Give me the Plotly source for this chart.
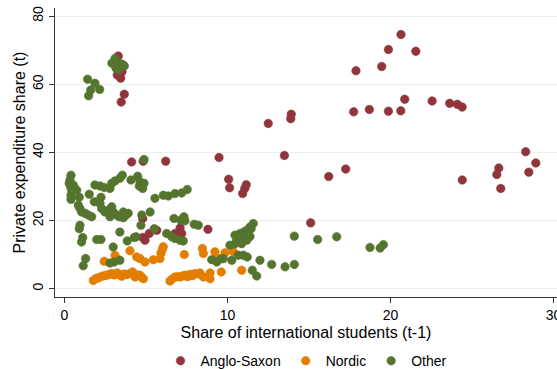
import plotly.graph_objects as go

# Share of international students (t-1) vs private expenditure share (t), by country group
anglo_x = [3.30, 3.59, 3.24, 3.45, 3.53, 3.67, 3.48, 12.50, 13.91, 13.88, 17.88, 19.46, 19.87, 20.64,
           21.55, 17.74, 18.70, 19.87, 20.63, 20.87, 22.55, 23.63, 24.10, 24.39, 28.29, 28.91, 28.48,
           26.64, 26.52, 26.76, 24.40, 6.21, 9.48, 10.07, 10.13, 11.15, 11.06, 10.93, 13.49, 16.21,
           17.25, 15.10, 8.80, 7.09, 6.78, 7.19, 5.66, 5.20, 4.94, 4.80, 4.12, 4.83, 4.80]
anglo_y = [68.3, 65.7, 62.7, 61.8, 63.7, 57.1, 54.8, 48.5, 51.2, 49.9, 64.0, 65.2, 70.2, 74.6,
           69.7, 51.9, 52.6, 52.1, 52.2, 55.6, 55.1, 54.4, 54.1, 53.3, 40.2, 36.9, 34.2,
           35.4, 33.5, 29.4, 31.9, 37.4, 38.5, 32.1, 29.6, 30.5, 29.4, 27.9, 39.1, 32.9,
           35.1, 19.3, 17.4, 17.8, 16.2, 16.2, 17.1, 16.2, 14.2, 20.6, 37.2, 37.4, 15.0]

nordic_x = [1.77, 1.95, 2.10, 2.28, 2.45, 2.59, 2.75, 2.90, 3.05, 3.24, 3.40, 3.51, 3.65, 3.82,
            4.00, 4.18, 4.33, 4.50, 4.63, 4.84, 4.72,
            6.47, 6.60, 6.78, 6.95, 7.09, 7.25, 7.39, 7.55, 7.70, 7.85, 8.01, 8.20, 8.31, 8.52,
            8.93, 8.93, 9.62, 10.87,
            2.44, 3.10, 3.30, 4.02, 4.43, 4.63, 4.94, 5.45, 5.86, 5.92, 6.00, 6.06, 7.35, 8.46,
            8.52, 9.23, 9.34, 9.85, 10.36]
nordic_y = [2.4, 3.0, 3.2, 3.6, 3.8, 3.9, 4.2, 4.4, 4.0, 4.6, 4.0, 3.6, 4.3, 4.1,
            4.4, 4.9, 3.4, 4.0, 3.9, 2.9, 3.4,
            2.2, 2.8, 3.4, 3.5, 3.4, 3.7, 3.9, 3.5, 4.2, 3.8, 4.4, 4.3, 4.6, 3.4,
            4.6, 2.9, 4.9, 5.4,
            8.0, 9.8, 8.5, 11.1, 9.3, 8.8, 7.8, 8.5, 8.8, 10.4, 11.5, 12.3, 10.0, 11.8,
            10.3, 10.8, 9.0, 10.5, 10.8]

other_x = [0.40, 0.34, 0.29, 0.38, 0.54, 0.64, 0.44, 0.75, 0.40, 0.40,
           0.91, 0.85, 0.95, 1.05, 1.26, 1.46, 1.67, 0.95, 0.91, 1.12,
           1.05, 1.30, 1.15, 1.52, 1.83, 2.24, 1.87, 2.18, 2.44, 2.79,
           2.90, 3.10, 3.40, 3.55, 4.08, 4.49, 4.63, 4.59, 4.80, 4.88,
           4.88, 2.18, 2.28, 2.48, 2.69, 2.90, 2.99, 3.20, 2.79, 3.36,
           3.61, 3.77, 3.91, 3.61, 4.74, 5.25, 4.69, 4.39, 5.51, 1.98,
           2.24, 2.99, 2.79, 3.04, 3.40, 3.40, 3.85, 4.28, 5.55, 6.06,
           6.37, 6.78, 7.19, 7.53, 6.27, 6.58, 6.78, 7.09, 7.29, 6.72,
           7.13, 7.33, 7.39, 7.96, 8.21, 9.64, 9.03, 9.34, 9.74, 10.26,
           10.66, 10.97, 11.21, 11.99, 12.71, 13.53, 14.10, 11.52, 11.79, 10.15,
           10.46, 10.87, 10.46, 10.77, 11.07, 11.38, 10.56, 10.87, 11.18, 11.38,
           11.58, 11.18, 11.00, 14.10, 15.53, 16.70, 18.74, 19.36, 19.56, 10.60,
           10.90, 11.25, 11.30, 10.70, 11.00, 11.45,
           1.42, 1.87, 1.61, 2.16, 1.48, 2.91, 3.10, 3.20, 3.16, 3.40, 3.67, 3.30, 3.47]
other_y = [33.3, 31.9, 30.9, 29.9, 30.4, 29.4, 28.9, 28.9, 27.4, 26.2,
           26.8, 24.5, 23.5, 22.5, 22.1, 21.6, 21.1, 18.6, 17.6, 15.0,
           13.7, 8.8, 6.7, 27.7, 25.5, 26.8, 30.4, 30.1, 29.7, 29.4,
           30.9, 31.6, 32.4, 33.3, 31.9, 33.0, 31.4, 30.1, 29.4, 30.9,
           37.9, 25.0, 23.5, 22.5, 23.0, 24.0, 22.5, 21.6, 21.1, 21.1,
           22.5, 21.6, 22.1, 20.8, 21.6, 22.5, 18.6, 15.2, 17.6, 14.4,
           14.4, 12.2, 7.5, 7.8, 8.3, 16.6, 14.0, 15.0, 26.5, 27.4,
           27.2, 27.9, 28.1, 29.1, 16.2, 15.2, 14.7, 14.2, 14.0, 20.6,
           20.1, 21.1, 19.9, 18.9, 18.6, 8.8, 8.5, 7.8, 8.8, 8.3,
           9.8, 9.8, 9.3, 8.3, 7.1, 6.4, 7.1, 5.4, 3.7, 12.7,
           13.2, 13.2, 15.7, 16.2, 15.7, 15.3, 14.7, 14.7, 14.2, 18.1,
           19.1, 17.1, 16.6, 15.4, 14.4, 15.2, 12.1, 11.9, 12.9, 15.3,
           15.9, 16.3, 15.0, 14.0, 14.3, 17.6,
           61.5, 60.3, 58.3, 58.5, 56.6, 66.2, 67.6, 66.6, 64.7, 65.2, 65.4, 64.2, 66.0]

groups = ["Anglo-Saxon", "Nordic", "Other"]
colors = ["#90353B", "#E37E00", "#55752F"]
xs = [anglo_x, nordic_x, other_x]
ys = [anglo_y, nordic_y, other_y]

x_ticks = [0, 10, 20, 30]
y_ticks = [0, 20, 40, 60, 80]

FONT = "Arial, Liberation Sans, sans-serif"

fig = go.Figure()
for name, col, x, y in zip(groups, colors, xs, ys):
    fig.add_trace(go.Scatter(
        x=x, y=y, mode="markers", name=name,
        marker=dict(color=col, size=8.5, line=dict(width=0.6, color=col)),
    ))

fig.update_layout(
    width=557, height=369,
    margin=dict(l=55, r=0, t=8, b=72, autoexpand=False),
    paper_bgcolor="white", plot_bgcolor="white",
    font=dict(family=FONT, color="#000000", size=14),
    showlegend=True,
    legend=dict(orientation="h", x=0.5, xanchor="center", y=-0.222, yanchor="middle",
                font=dict(size=14), itemwidth=30, bgcolor="rgba(0,0,0,0)"),
)

fig.update_xaxes(
    range=[-0.58, 30.21], tickvals=x_ticks, ticks="outside", ticklen=5, tickwidth=1,
    tickcolor="#333333", showline=True, linecolor="#333333", linewidth=1.3,
    showgrid=False, zeroline=False, tickfont=dict(size=14), automargin=False,
    ticklabeloverflow="allow",
    title=dict(text="Share of international students (t-1)", font=dict(size=16), standoff=4),
)
fig.update_yaxes(
    range=[-2.47, 82.4], tickvals=y_ticks, ticks="outside", ticklen=5, tickwidth=1,
    tickcolor="#333333", showline=True, linecolor="#333333", linewidth=1.3,
    showgrid=True, gridcolor="#EAF0F0", gridwidth=1.2, zeroline=False,
    tickangle=-90, tickfont=dict(size=14), automargin=False,
    title=dict(text="Private expenditure share (t)", font=dict(size=16), standoff=0),
)

fig.write_html("out.html")
